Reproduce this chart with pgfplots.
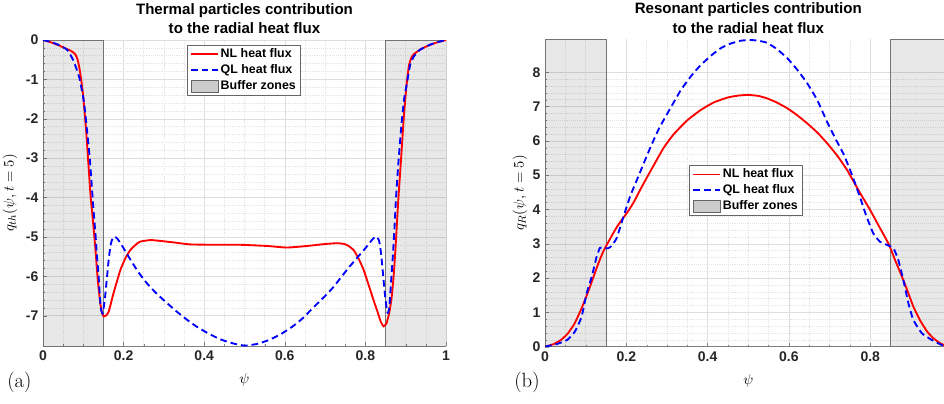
\documentclass[border=0pt]{standalone}
\usepackage[no-math]{fontspec}
\usepackage{pgfplots}
\pgfplotsset{compat=1.18}
\newfontfamily\hv{Liberation Sans}

\definecolor{nlred}{rgb}{1,0,0}
\definecolor{qlblue}{rgb}{0,0,1}

\pgfplotstableread{
psi q
0 0
0.02 -0.06
0.04 -0.14
0.055 -0.21
0.07 -0.28
0.08 -0.36
0.086 -0.5
0.091 -0.75
0.096 -1.1
0.1 -1.45
0.107 -2.3
0.113 -3.2
0.118 -3.95
0.124 -4.6
0.13 -5.3
0.136 -6.1
0.142 -6.68
0.147 -6.95
0.151 -7.02
0.156 -7.0
0.163 -6.9
0.175 -6.43
0.192 -5.84
0.205 -5.53
0.217 -5.33
0.23 -5.2
0.241 -5.12
0.266 -5.08
0.29 -5.1
0.324 -5.14
0.365 -5.19
0.43 -5.2
0.49 -5.2
0.556 -5.23
0.605 -5.27
0.655 -5.23
0.7 -5.18
0.73 -5.16
0.748 -5.18
0.76 -5.24
0.772 -5.35
0.783 -5.55
0.795 -5.82
0.808 -6.22
0.82 -6.6
0.83 -6.9
0.838 -7.15
0.845 -7.27
0.852 -7.2
0.859 -6.94
0.865 -6.55
0.87 -6.0
0.874 -5.4
0.878 -4.7
0.882 -4.0
0.888 -3.1
0.895 -2.0
0.902 -1.15
0.908 -0.65
0.914 -0.45
0.92 -0.36
0.935 -0.25
0.952 -0.16
0.975 -0.07
1 0
}\thNL

\pgfplotstableread{
psi q
0 0
0.02 -0.05
0.04 -0.13
0.06 -0.25
0.073 -0.47
0.082 -0.7
0.09 -0.95
0.096 -1.25
0.102 -1.6
0.11 -2.37
0.116 -3.0
0.121 -3.7
0.126 -4.4
0.13 -4.9
0.134 -5.5
0.138 -6.0
0.141 -6.5
0.144 -6.85
0.148 -6.94
0.152 -6.7
0.155 -6.43
0.159 -6.0
0.163 -5.58
0.167 -5.25
0.171 -5.08
0.177 -4.99
0.185 -5.05
0.196 -5.22
0.217 -5.58
0.237 -5.9
0.258 -6.18
0.28 -6.42
0.299 -6.6
0.33 -6.88
0.357 -7.1
0.38 -7.27
0.41 -7.45
0.44 -7.6
0.47 -7.7
0.5 -7.76
0.53 -7.72
0.56 -7.62
0.59 -7.47
0.62 -7.27
0.645 -7.06
0.67 -6.8
0.7 -6.5
0.72 -6.28
0.74 -6.02
0.761 -5.75
0.782 -5.5
0.803 -5.25
0.816 -5.08
0.824 -5.0
0.829 -5.0
0.834 -5.1
0.838 -5.35
0.842 -5.75
0.846 -6.2
0.85 -6.6
0.854 -6.9
0.857 -6.92
0.86 -6.7
0.864 -6.1
0.868 -5.5
0.872 -4.8
0.876 -4.0
0.882 -3.1
0.889 -2.2
0.896 -1.5
0.903 -1.1
0.911 -0.63
0.92 -0.42
0.935 -0.25
0.96 -0.12
0.98 -0.05
1 0
}\thQL

\pgfplotstableread{
psi q
0 0
0.02 0.07
0.0385 0.19
0.055 0.37
0.072 0.66
0.09 1.12
0.107 1.63
0.12 2.06
0.131 2.42
0.142 2.74
0.152 2.97
0.165 3.25
0.18 3.55
0.205 3.96
0.22 4.25
0.238 4.66
0.268 5.3
0.292 5.8
0.317 6.2
0.35 6.6
0.383 6.9
0.415 7.12
0.448 7.26
0.475 7.32
0.5 7.34
0.525 7.31
0.546 7.24
0.57 7.12
0.596 6.95
0.62 6.75
0.645 6.51
0.67 6.24
0.694 5.93
0.72 5.55
0.743 5.15
0.755 4.9
0.777 4.44
0.7995 3.99
0.822 3.5
0.8446 3.01
0.862 2.5
0.8815 1.94
0.894 1.55
0.906 1.17
0.922 0.78
0.94 0.44
0.955 0.25
0.972 0.1
0.988 0.02
1 0
}\rNL

\pgfplotstableread{
psi q
0 0
0.03 0.08
0.055 0.2
0.074 0.45
0.09 0.87
0.1025 1.56
0.115 2.04
0.127 2.62
0.135 2.88
0.141 2.9
0.148 2.87
0.155 2.87
0.162 2.92
0.176 3.16
0.193 3.79
0.209 4.37
0.226 4.86
0.243 5.35
0.26 5.83
0.28 6.35
0.301 6.8
0.318 7.15
0.334 7.48
0.36 7.9
0.383 8.21
0.41 8.5
0.432 8.7
0.455 8.83
0.481 8.92
0.506 8.94
0.525 8.92
0.546 8.86
0.57 8.68
0.596 8.41
0.62 8.08
0.645 7.68
0.67 7.18
0.694 6.55
0.715 6.05
0.735 5.6
0.757 4.95
0.775 4.35
0.791 3.79
0.8077 3.3
0.824 3.06
0.8406 2.97
0.857 2.87
0.869 2.53
0.8815 1.94
0.894 1.26
0.906 0.78
0.927 0.39
0.951 0.2
0.976 0.05
1 0
}\rQL

\pgfplotsset{
  matax/.style={
    scale only axis,
    anchor=south west,
    axis x line*=bottom,
    axis y line*=left,
    axis line style={-, black!50},
    tick align=inside,
    major tick length=3pt,
    minor tick length=1.5pt,
    tick style={black!50},
    grid=both,
    major grid style={black!13},
    minor grid style={black!10, densely dotted},
    minor x tick num=3,
    minor y tick num=4,
    /pgf/number format/assume math mode=true,
    ticklabel style={font=\hv\bfseries\fontsize{10.5}{12}\selectfont, text=black!85},
    every axis title/.style={at={(0.5,1)}, anchor=south, yshift=1pt,
      align=center, font=\hv\bfseries\fontsize{11.3}{14.6}\selectfont},
    every axis x label/.style={at={(axis description cs:0.5,-0.11)}, anchor=center,
      font=\fontsize{11}{13}\selectfont},
    xlabel={$\psi$},
    legend cell align=left,
    legend style={draw=black!60, fill=white, font=\hv\bfseries\fontsize{9.3}{11}\selectfont,
      inner xsep=2pt, inner ysep=1pt, row sep=0pt,
      nodes={inner sep=1.5pt, text height=7pt, text depth=1.8pt}},
    legend image code/.code={\draw[##1] (0pt,0pt) -- (20pt,0pt);},
    nl/.style={draw=nlred, line width=1.4pt},
    ql/.style={draw=qlblue, line width=1.4pt, dash pattern=on 5pt off 3pt},
    buf/.style={fill=black, fill opacity=0.09, draw=black!55, line width=0.5pt, forget plot},
  }
}

\begin{document}
\begin{tikzpicture}
\useasboundingbox (0,0) rectangle (708pt,-302.25pt);
\clip (0,0) rectangle (708pt,-302.25pt);

\begin{axis}[matax,
  at={(32.25pt,-259.5pt)},
  width=302.25pt, height=229.5pt,
  xmin=0, xmax=1, ymin=-7.77, ymax=0,
  xtick={0,0.2,0.4,0.6,0.8,1},
  ytick={-7,-6,-5,-4,-3,-2,-1,0},
  title={Thermal particles contribution\\to the radial heat flux},
  every axis y label/.style={at={(axis description cs:-0.082,0.5)}, rotate=90, anchor=center,
    font=\fontsize{11}{13}\selectfont},
  ylabel={$q_{th}(\psi, t=5)$},
  legend style={at={(axis description cs:0.358,0.984)}, anchor=north west},
]
\addplot[buf] coordinates {(0,-7.77) (0,0) (0.15,0) (0.15,-7.77)} -- cycle;
\addplot[buf] coordinates {(0.85,-7.77) (0.85,0) (1,0) (1,-7.77)} -- cycle;
\addplot[nl, smooth, tension=0.3] table[x=psi, y=q] {\thNL};
\addplot[ql, smooth, tension=0.3] table[x=psi, y=q] {\thQL};
\addlegendimage{legend image code/.code={\draw[fill=black!20, draw=black!60] (0pt,-4.5pt) rectangle (20pt,4.5pt);}}
\legend{NL heat flux, QL heat flux, Buffer zones}
\node[anchor=base west, inner sep=0pt, font=\hv\fontsize{10.5}{12}\selectfont, text=black!85]
  at (axis description cs:0,1) [yshift=3.75pt] {×10\textsuperscript{-5}};
\end{axis}

\begin{axis}[matax,
  at={(408.75pt,-260pt)},
  width=304.9pt, height=230.5pt,
  xmin=0, xmax=1, ymin=0, ymax=8.96,
  xtick={0,0.2,0.4,0.6,0.8},
  ytick={0,1,2,3,4,5,6,7,8},
  title={Resonant particles contribution\\to the radial heat flux},
  every axis y label/.style={at={(axis description cs:-0.0615,0.5)}, rotate=90, anchor=center,
    font=\fontsize{11}{13}\selectfont},
  ylabel={$q_R(\psi, t=5)$},
  legend style={at={(axis description cs:0.355,0.591)}, anchor=north west},
]
\addplot[buf] coordinates {(0,0) (0,8.96) (0.15,8.96) (0.15,0)} -- cycle;
\addplot[buf] coordinates {(0.85,0) (0.85,8.96) (1,8.96) (1,0)} -- cycle;
\addplot[nl, smooth, tension=0.3] table[x=psi, y=q] {\rNL};
\addplot[ql, smooth, tension=0.3] table[x=psi, y=q] {\rQL};
\addlegendimage{legend image code/.code={\draw[fill=black!20, draw=black!60] (0pt,-4.5pt) rectangle (20pt,4.5pt);}}
\legend{NL heat flux, QL heat flux, Buffer zones}
\node[anchor=base west, inner sep=0pt, font=\hv\fontsize{10.5}{12}\selectfont, text=black!85]
  at (axis description cs:0,1) [yshift=3.75pt] {×10\textsuperscript{-4}};
\end{axis}

\node[font=\fontsize{15.5}{18}\selectfont] at (14.6pt,-286.5pt) {(a)};
\node[font=\fontsize{15.5}{18}\selectfont] at (395.25pt,-286.5pt) {(b)};
\end{tikzpicture}
\end{document}
